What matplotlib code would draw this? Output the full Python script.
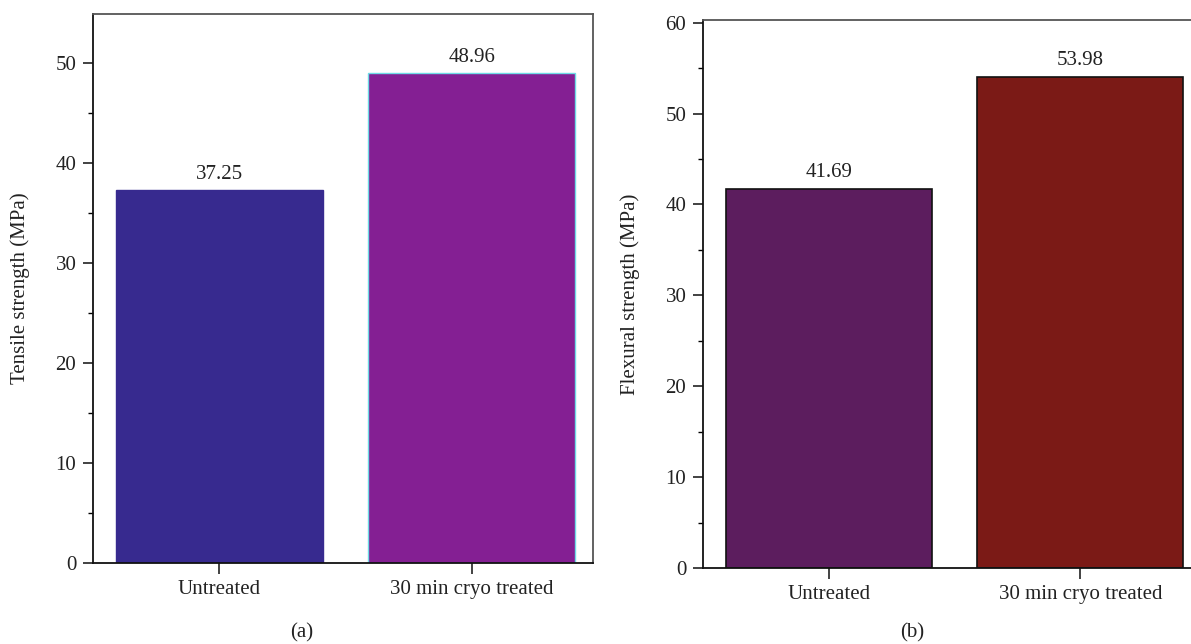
import matplotlib
matplotlib.use('Agg')
import matplotlib.pyplot as plt
from matplotlib.ticker import MultipleLocator

plt.rcParams['font.family'] = ['Liberation Serif', 'DejaVu Serif']

categories = ['Untreated', '30 min cryo treated']
tensile = [37.25, 48.96]
flexural = [41.69, 53.98]

tensile_colors = ['#372a8f', '#841f93']
tensile_edges = ['#372a8f', '#6fdbe6']
flexural_colors = ['#5c1d5e', '#7b1a16']

fig = plt.figure(figsize=(11.91, 6.44), dpi=100)

ax1 = fig.add_axes([93 / 1191, 1 - 563 / 644, 500 / 1191, 549 / 644])
ax2 = fig.add_axes([703 / 1191, 1 - 568 / 644, 488 / 1191, 548 / 644])


def style(ax, ylab):
    ax.tick_params(axis='y', which='major', direction='out', length=7, width=1.2,
                   labelsize=15, pad=5, colors='#222222')
    ax.tick_params(axis='y', which='minor', direction='out', length=3.5, width=1)
    ax.tick_params(axis='x', which='major', direction='out', length=8, width=1.2,
                   labelsize=15, pad=4, colors='#222222')
    ax.yaxis.set_minor_locator(MultipleLocator(5))
    ax.yaxis.set_major_locator(MultipleLocator(10))
    ax.set_ylabel(ylab, fontsize=15, color='#222222')
    for s in ['left', 'bottom']:
        ax.spines[s].set_linewidth(1.3)
        ax.spines[s].set_color('#111111')
    for s in ['top', 'right']:
        ax.spines[s].set_linewidth(1.3)
        ax.spines[s].set_color('#555555')


x = range(len(categories))

# (a) tensile strength
bars = ax1.bar(x, tensile, width=0.82, color=tensile_colors, edgecolor=tensile_edges, linewidth=1)
for b, v in zip(bars, tensile):
    ax1.text(b.get_x() + b.get_width() / 2, v + 0.6, f'{v:.2f}', ha='center', va='bottom',
             fontsize=15, color='#222222')
ax1.set_xlim(-0.5, 1.48)
ax1.set_ylim(0, 54.85)
ax1.set_xticks(list(x))
ax1.set_xticklabels(categories)
style(ax1, 'Tensile strength (MPa)')
ax1.yaxis.set_label_coords(-0.125, 0.5)

# (b) flexural strength
bars = ax2.bar(x, flexural, width=0.82, color=flexural_colors, edgecolor='#111111', linewidth=1.2)
for b, v in zip(bars, flexural):
    ax2.text(b.get_x() + b.get_width() / 2, v + 0.8, f'{v:.2f}', ha='center', va='bottom',
             fontsize=15, color='#222222')
ax2.set_xlim(-0.5, 1.44)
ax2.set_ylim(0, 60.3)
ax2.set_xticks(list(x))
ax2.set_xticklabels(categories)
style(ax2, 'Flexural strength (MPa)')
ax2.spines['right'].set_visible(False)
ax2.yaxis.set_label_coords(-0.13, 0.5)

fig.text(302 / 1191, 1 - 633 / 644, '(a)', ha='center', va='center', fontsize=15, color='#222222')
fig.text(912 / 1191, 1 - 633 / 644, '(b)', ha='center', va='center', fontsize=15, color='#222222')

fig.savefig('out.png', dpi=100)
